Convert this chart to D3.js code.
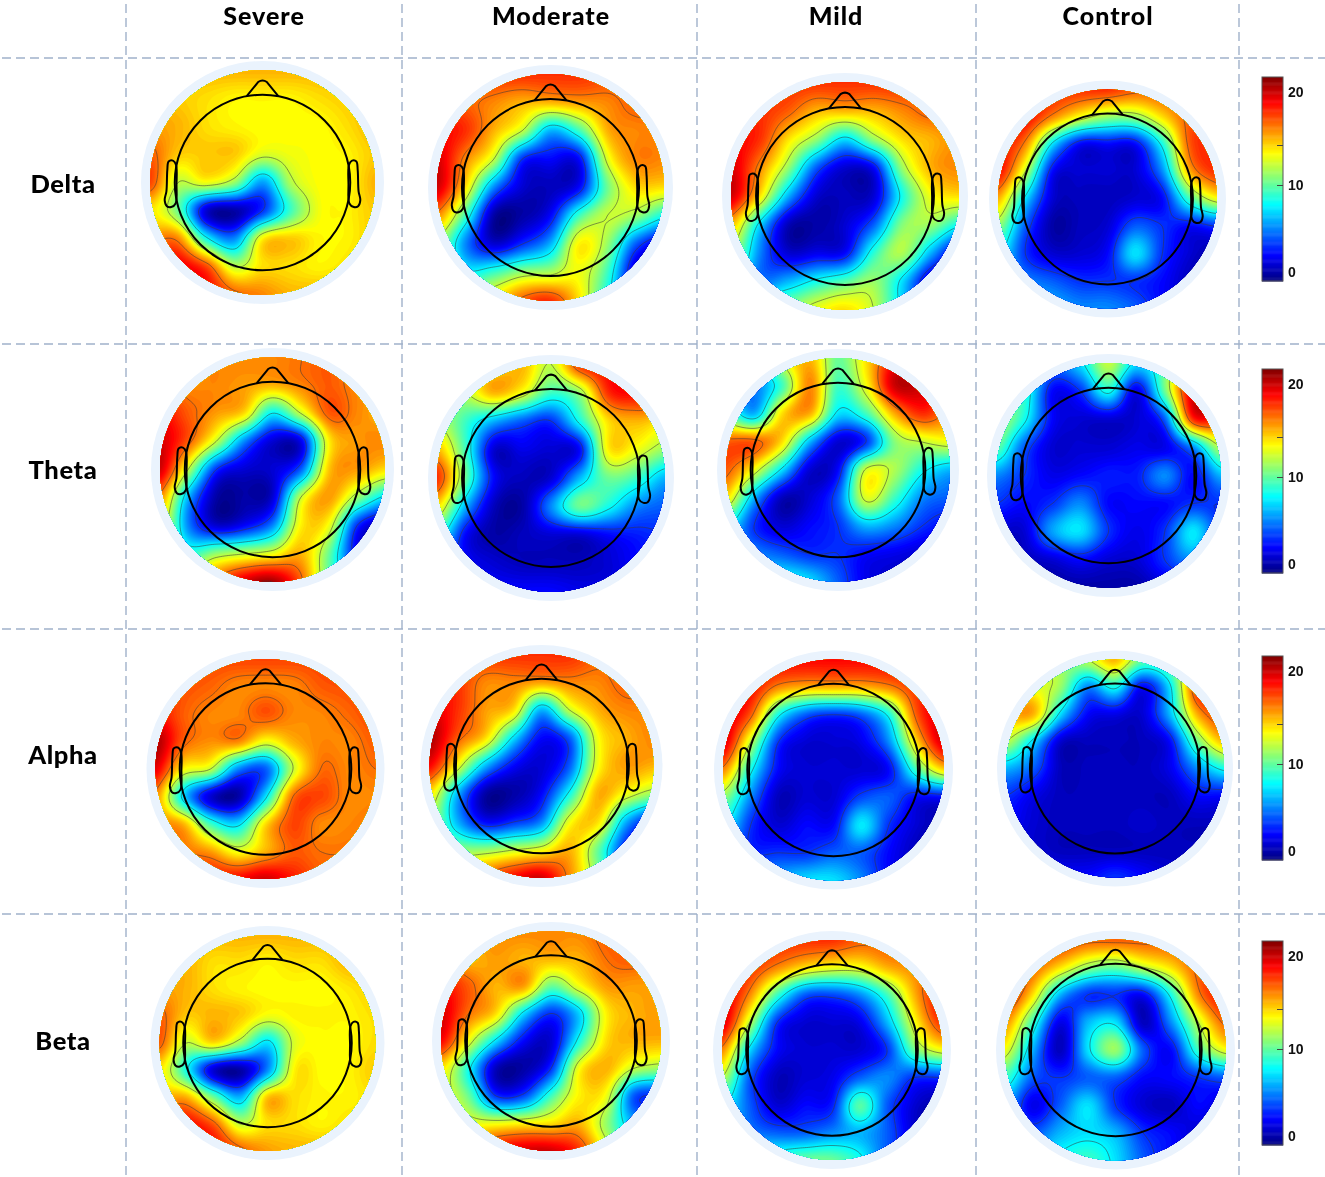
<!DOCTYPE html>
<html>
<head>
<meta charset="utf-8">
<script src="https://cdn.jsdelivr.net/npm/d3@7"></script>
<style>
  html, body { margin: 0; padding: 0; background: #fff; }
  svg { display: block; filter: blur(0.45px); }
</style>
</head>
<body>
<svg id="chart" width="1325" height="1177"></svg>
<script>
const groups = ["Severe", "Moderate", "Mild", "Control"];
const bands = ["Delta", "Theta", "Alpha", "Beta"];
const colorbarTicks = [0, 10, 15, 20];
const contourLevels = [3, 7.5, 12, 16.5, 21];

// scalp values on a 9x9 grid over each disc (top row = nose side)
const deltaSevere = [
  [15,15,15,15,15,15,15,15,15],
  [15,14.5,14,13.5,13.5,13.5,14,14.5,15],
  [15.5,15,14,13.5,13.3,13.3,13.3,14,15],
  [17,14.5,14.5,14.5,12.5,13,13.3,13.5,14.5],
  [17.5,12,13,11,5.5,11.5,13.3,13.3,15],
  [14,10,1,0,3,9,13,13.5,14.5],
  [16,16,8,5,13.5,14.5,13.5,13.5,14.5],
  [19,19.5,17.5,12,14,14,13.5,14,15],
  [19,19,19,17,16,15,15,15,15]];
const deltaModerate = [
  [18,18,18,18,18,18,17.5,17,17],
  [18,17,16,15,15,15.5,16,17,17],
  [19,18,15,12,6,9,15,16,16],
  [20,16,12,3,2,2,12.5,16,16],
  [20,14,5,1,0.5,2,10,14,14],
  [16,9,0,0,2,9,12,11,8],
  [12,5,1,3,6,13.5,11,4,1],
  [14,8,9,11,11.5,13,9,1,0],
  [14,13,14,17,18,14,8,3,1]];
const deltaMild = [
  [18,18,18,18,18,18,18,17,17],
  [18,18,17,15,15,15,16,17,17],
  [19,18,14,11,7,11,14,15,16],
  [20,16,11,4,1,2,11,15,16],
  [20,14,6,1,0.5,1,8,13,14],
  [15,7,0.5,0,1,4,10.5,11,8],
  [12,5,1,1.5,2,8.5,11.5,6,1],
  [11,5,6,8,9.5,11,7,1,0],
  [11,11,11,13,14,12,7,2,0]];
const deltaControl = [
  [18,18,18,18,18,17,17,17,17],
  [19,19,16,13,11,11,14,17,17],
  [19,16,7,2,2,2,8,17,18],
  [19,12,2,1,1,1,5,15,18],
  [15,7,1,0.5,0.5,1,2,9,13],
  [11,4,0,0.5,1,4,3,2,3],
  [8,3,1,1,2,7,3,1,0],
  [7,5,4,3,3,3,2,0.5,0],
  [7,7,6,5,5,4,2,1,0]];

const thetaSevere = [
  [16,16,16,16,16,16.5,17,16,16],
  [17,16,16,15.5,15,16,17,16,16],
  [19,17,15.5,14,7.5,12,17,16,15],
  [20,17,12,5,1,1.5,13.5,15.5,16],
  [20,12,3,1,1,4,14.5,15.5,14],
  [16,6,0,0,1,12,15.5,11,7],
  [14,5,1,2,5,13.5,13,3,0],
  [14,9,11,12,13,15,10,2,0],
  [14,14,17,20,21,17,10,6,4]];
const thetaModerate = [
  [14,14,14,15,12,18,19,19,19],
  [12,12,15,13,9,11,18,19,19],
  [12,9,6,4,3,8,14,15,14],
  [15,9,1,1.5,1,2,13.5,13,11],
  [18,10,2,0.5,1,6,10,9,6],
  [14,6,0.5,0,5,10,8,5,4],
  [9,2,0,0.5,1,1,2,2.5,3],
  [5,2,1,0.5,0.5,0.5,1,2,3],
  [2,2,2,2,2,1.5,1.5,2,2]];
const thetaMild = [
  [10,8,13,15,10,14,19,20,18],
  [9,5,9,16,9,13,20,20,18],
  [10,6,14,15,7,9,15,18,16],
  [17,17,14,6,1,3,10.5,12,13],
  [17,13,7,1,2,12.3,11.5,8,6],
  [14,6,0.5,1,4,12.5,9,5,4],
  [8,3,1,2,3,6,5,3,2],
  [6,5,4,3,3,2,1.5,1,1],
  [6,7,8,7,4,1.5,1,1,1]];
const thetaControl = [
  [11,11,5,7,12,7,10,19,19],
  [10,9,2,3,8,1.5,10,20,19],
  [12,8,2,1,1,1,4,18,18],
  [10,4,1,1,1,1.5,1.5,5,12],
  [5,3,1.5,2,2.5,2.5,5,2,6],
  [3,2,3,5,2,2,2,3,3],
  [1,1,5.5,7,3,1.5,3,7.2,3],
  [0.5,0.5,1,2,1,1,3,5,2],
  [0,0,0,0,0,0,1,1,1]];

const alphaSevere = [
  [17.5,17.5,17.5,17.5,17.5,17.5,17.5,17.5,17.5],
  [18,17.3,16.8,16,16,16,17,17.3,17.5],
  [19,17,16,16,17.2,16,16,16.7,17.5],
  [21,17,15.8,16,13,15,16,16,17],
  [19.5,13.5,12,5,4,12,16.5,16,16.5],
  [16,7,1,0,7,16.5,17.5,16,16],
  [16,15,9,7,14,17.5,16,16,16.5],
  [17,16.5,15.5,13,15,17,16.5,16.5,17],
  [18,18,18.5,19,20,18.5,17,17,17]];
const alphaModerate = [
  [18,18,18,18,18,18,17,17,17],
  [19,18,16,16,15.5,16,16,17,17],
  [20,18,15.5,14,6,12,15,16,16],
  [21,17,14,7,2,4,13,15,16],
  [19,13,6,2,1,4,13,15.5,15],
  [14,6,0,0,2,8,15,13,11],
  [12,6,2,3,5,13,14,6,2],
  [13,11,11,12,13,15,10,3,1],
  [15,15,17,19,20,16,11,6,3]];
const alphaMild = [
  [19,19,19,19,19,19,19,19,19],
  [20,19,16,15,15,15,16,18,19],
  [20,17,8,4,3,4,8,17,20],
  [20,12,3,1,1,1.5,5,14,20],
  [16,8,2,1,1,1,2,9,14],
  [11,5,0.5,1,1,3.5,4,2,2],
  [8,3,1,2,2,7.2,3,1,0],
  [6,3,3,3,4,4,2,0.5,0],
  [6,6,6,7,7,5,2,1,0]];
const alphaControl = [
  [11,13,11,12,15,10,11,15,17],
  [14,13,11,5,8,2,7,18,18],
  [15,15,7,2,1.5,1,6,15,18],
  [12,7,1,0.5,0.5,0.5,2,10,15],
  [6,4,0.5,0.5,0.5,0.5,1.5,5,8],
  [3,1.5,0.5,0.5,0.5,0.5,0.5,2,2],
  [2,1,0.5,0.5,0.5,0.8,0.5,0.5,0.5],
  [1,1,0.5,0.5,0.5,0.5,0.5,0.5,0.5],
  [2,2,2,2,3,2,1,1,1]];

const betaSevere = [
  [15,15,15,15,15,15,15,15,15],
  [15,15,14,14,13.5,14,14,15,15],
  [15.5,15,14,13.5,13.3,13.3,13.3,13.8,14.5],
  [17,14.5,15,14.5,13,13.5,13.5,13.5,14],
  [17,12,14,11,7,12.5,13.3,13.3,14],
  [14,8,1,0,5,13.5,13.3,13.5,14.5],
  [15,15,10,6,14.5,14,13.5,13.5,14],
  [19,19,17,12,14,14,13.5,14,14],
  [19,19,19,17,15.5,15,15,15,15]];
const betaModerate = [
  [16,16,16,16,16,16,17,17,17],
  [17,15,15.5,15,15,15,16.5,17,16],
  [19,17,15,15.5,10,13,15.5,15.5,15.5],
  [20,16.5,14,7,3,6.5,13.5,15,15.5],
  [19,13,7,2,1,8,14,15,15],
  [14,8,0.5,0,3,13,15,12,11],
  [13,10,3,3.5,9,13.5,13,4,3],
  [14,13,13,13.5,14,15,11,6,6],
  [16,17,19,20,20,18,13,9,9]];
const betaMild = [
  [18,18,18,18,18,17,17,17,17],
  [19,18,16,14,13,13,15,16,17],
  [20,16,9,4,3.5,5,9,15,19],
  [20,12,3,1,1,1.5,6,13,18],
  [16,7,2,1,1,1,3,10,13],
  [12,4,0.5,1,1.5,4,5,3,3],
  [8,4,1,2,2.5,9.5,4,1,0],
  [8,5,4,4,5,6,4,1,0],
  [9,9,9,10,10,8,4,2,1]];
const betaControl = [
  [18,18,18,17,17,17,17,17,17],
  [19,17,14,11,10,12,14,17,18],
  [19,14,6,3,3,2,8,16,19],
  [16,9,1.5,6,7,0.5,5,12,17],
  [13,6,0.5,7,11,4,2,9,13],
  [9,4,3,4,4,2,2,3,4],
  [6,1.5,4,7,3,1,0.5,2,1],
  [6,4,6,7,6,3,2,1,1],
  [7,7,8,9,7,4,2,1,1]];

const panelData = [
  [deltaSevere, deltaModerate, deltaMild, deltaControl],
  [thetaSevere, thetaModerate, thetaMild, thetaControl],
  [alphaSevere, alphaModerate, alphaMild, alphaControl],
  [betaSevere, betaModerate, betaMild, betaControl]
];

// layout, not data
const discX = [[262.5,550.5,845,1107.5],[272.5,551,838,1108.5],[265.5,541.5,833.5,1115],[267.5,551,832,1115.5]];
const discY = [[182.5,187.5,196,199],[469.5,478,470,475.5],[769,766,770,768.5],[1043,1041,1050,1050]];
const discR = [[112.5,113.5,114,109.5],[112.5,114,112,112.5],[110,112,110.5,109],[108,110,110,110.5]];
const headR = 0.78;

const width = 1325, height = 1177;
const gridX = [126, 402, 697, 976, 1239];
const gridY = [58, 344, 629, 914];
const colX = [264, 551, 836, 1108];
const rowY = [184, 470, 755, 1041];
const barTop = [77, 369, 656, 941];
const barH = 204, barW = 21, barX = 1262;

const vMin = -1, vMax = 21.7;
const jet = d3.scaleLinear()
    .domain([0, 0.125, 0.375, 0.625, 0.875, 1].map(t => vMin + t * (vMax - vMin)))
    .range(["#00007f", "#0000ff", "#00ffff", "#ffff00", "#ff0000", "#7f0000"])
    .clamp(true);

// Catmull-Rom upsampling of the 9x9 values so the bands come out smooth
function cubic(a, b, c, d, t) {
    return b + 0.5 * t * (c - a + t * (2 * a - 5 * b + 4 * c - d + t * (3 * (b - c) + d - a)));
}
function upsample(grid, k) {
    const m = grid.length, n = (m - 1) * k + 1, out = new Float64Array(n * n);
    const at = (r, c) => grid[Math.max(0, Math.min(m - 1, r))][Math.max(0, Math.min(m - 1, c))];
    for (let j = 0; j < n; j++) {
        const r = Math.min(m - 2, Math.floor(j / k)), tr = j / k - r;
        for (let i = 0; i < n; i++) {
            const c = Math.min(m - 2, Math.floor(i / k)), tc = i / k - c;
            const col = [-1, 0, 1, 2].map(dr => cubic(at(r + dr, c - 1), at(r + dr, c), at(r + dr, c + 1), at(r + dr, c + 2), tc));
            out[j * n + i] = cubic(col[0], col[1], col[2], col[3], tr);
        }
    }
    return {values: out, n};
}

const svg = d3.select("#chart");
const defs = svg.append("defs");

// dashed table lines
const lines = svg.append("g")
    .attr("stroke", "#a0b1ca")
    .attr("stroke-width", 1.4)
    .attr("stroke-dasharray", "9 5");
lines.selectAll(".h").data(gridY).join("line").attr("class", "h")
    .attr("x1", 2).attr("x2", width).attr("y1", d => d).attr("y2", d => d);
lines.selectAll(".v").data(gridX).join("line").attr("class", "v")
    .attr("x1", d => d).attr("x2", d => d).attr("y1", 4).attr("y2", height);

const labelFont = "Lato, 'Open Sans', sans-serif";
svg.selectAll(".col").data(groups).join("text").attr("class", "col")
    .attr("x", (d, i) => colX[i]).attr("y", 25)
    .attr("text-anchor", "middle").attr("font-family", labelFont)
    .attr("letter-spacing", 1)
    .attr("font-weight", 900).attr("font-size", 25).text(d => d);
svg.selectAll(".row").data(bands).join("text").attr("class", "row")
    .attr("x", 63).attr("y", (d, i) => rowY[i]).attr("dy", "0.35em")
    .attr("text-anchor", "middle").attr("font-family", labelFont)
    .attr("letter-spacing", 0.6)
    .attr("font-weight", 900).attr("font-size", 25.5).text(d => d);

const thresholds = d3.range(vMin, vMax, (vMax - vMin) / 96);
const contours = d3.contours();
const earPts = [[0.985,-0.2],[1.02,-0.25],[1.07,-0.24],[1.085,-0.14],[1.095,0.1],[1.115,0.2],[1.09,0.27],[1.04,0.28],[0.99,0.24],[0.98,0.02]];
const ear = d3.line().curve(d3.curveCatmullRomClosed.alpha(0.5));

panelData.forEach((rowPanels, r) => rowPanels.forEach((grid, c) => {
    const cx = discX[r][c], cy = discY[r][c], R = discR[r][c], hr = R * headR;
    const g = svg.append("g");
    const clipId = `clip-${r}-${c}`;
    defs.append("clipPath").attr("id", clipId)
        .append("circle").attr("cx", cx).attr("cy", cy).attr("r", R);

    g.append("circle").attr("cx", cx).attr("cy", cy).attr("r", R + 9).attr("fill", "#eaf3fd");

    const {values, n} = upsample(grid, 14);
    const step = 2 * R / (n - 1);
    const path = d3.geoPath(d3.geoTransform({
        point(x, y) { this.stream.point(cx - R + (x - 0.5) * step, cy - R + (y - 0.5) * step); }
    }));
    contours.size([n, n]);

    const field = g.append("g").attr("clip-path", `url(#${clipId})`);
    field.append("circle").attr("cx", cx).attr("cy", cy).attr("r", R).attr("fill", jet(vMin));
    field.selectAll(".band")
        .data(contours.thresholds(thresholds)(values))
        .join("path").attr("class", "band")
        .attr("d", path)
        .attr("fill", d => jet(d.value));
    field.selectAll(".iso")
        .data(contours.thresholds(contourLevels)(values))
        .join("path").attr("class", "iso")
        .attr("d", path)
        .attr("fill", "none")
        .attr("stroke", "#3a3a3a")
        .attr("stroke-opacity", 0.55)
        .attr("stroke-width", 1);

    // head outline
    const head = g.append("g").attr("fill", "none").attr("stroke", "#000").attr("stroke-width", 2)
        .attr("stroke-linejoin", "round");
    head.append("circle").attr("cx", cx).attr("cy", cy).attr("r", hr);
    const nose = d3.path();
    nose.moveTo(cx - 0.18 * hr, cy - 0.985 * hr);
    nose.lineTo(cx - 0.05 * hr, cy - 1.145 * hr);
    nose.quadraticCurveTo(cx, cy - 1.18 * hr, cx + 0.05 * hr, cy - 1.145 * hr);
    nose.lineTo(cx + 0.18 * hr, cy - 0.985 * hr);
    head.append("path").attr("d", nose.toString());
    [1, -1].forEach(side => {
        head.append("path").attr("d", ear(earPts.map(p => [cx + side * p[0] * hr, cy + p[1] * hr])));
    });
}));

// colour bars
barTop.forEach(top => {
    const fillY = d3.scaleLinear().domain([vMin, vMax]).range([top + barH, top]);
    const axisY = d3.scaleLinear()
        .domain([vMin, 0, 10, 15, 20, vMax])
        .range([top + barH, top + 195, top + 108, top + 68, top + 15, top]);
    const bar = svg.append("g");
    bar.selectAll("rect")
        .data(d3.range(vMin, vMax, 0.1))
        .join("rect")
        .attr("x", barX).attr("width", barW)
        .attr("y", d => fillY(d + 0.1)).attr("height", fillY(0) - fillY(0.1) + 0.5)
        .attr("fill", d => jet(d));
    bar.append("rect").attr("x", barX).attr("y", top).attr("width", barW).attr("height", barH)
        .attr("fill", "none").attr("stroke", "#555").attr("stroke-width", 1);
    const axis = svg.append("g").attr("transform", `translate(${barX + barW},0)`)
        .call(d3.axisRight(axisY).tickValues(colorbarTicks).tickSize(0).tickPadding(5)
            .tickFormat(d => d === 15 ? "" : d));
    axis.select(".domain").remove();
    axis.selectAll("text").attr("font-family", "'Liberation Sans', Arial, sans-serif")
        .attr("font-weight", 700).attr("font-size", 14).attr("fill", "#111");
    axis.selectAll(".tick line").filter(d => d === 10 || d === 15)
        .attr("x1", -6).attr("x2", 0).attr("stroke", "#444");
});
</script>
</body>
</html>
